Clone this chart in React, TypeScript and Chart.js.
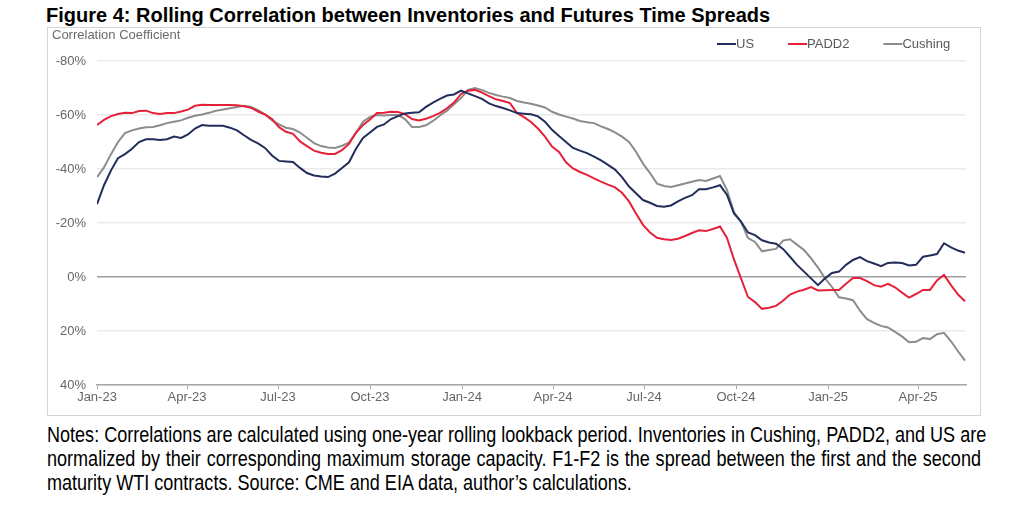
import React, { useEffect, useRef } from "react";
import { Chart, registerables } from "chart.js";

Chart.register(...registerables);

// Weekly observations, Jan 2023 – May 2025 (correlation in %, axis reversed)
const usValues = [
  -27, -34, -39.5, -44, -45.5, -47.5, -50, -51, -51, -50.7, -51, -52, -51.5, -52.8, -55, -56.3,
  -56, -56, -56, -55.3, -54.3, -52.5, -50.8, -49.5, -47.8, -45, -43, -42.8, -42.6, -40.4, -38.5,
  -37.6, -37.2, -37, -38.3, -40.4, -42.5, -47.5, -51.5, -53.5, -55.6, -56.5, -58.5, -59.6, -60.6,
  -60.8, -61, -63, -64.6, -66, -67.2, -67.6, -69, -68, -67, -66, -64.3, -63.3, -62.6, -61.7,
  -60.7, -60.5, -60.3, -59.5, -57.5, -54.5, -52.2, -50, -47.8, -46.8, -45.9, -44.6, -43.2, -41.5,
  -39.8, -37, -33.5, -31, -28.5, -27.5, -26.3, -26, -26.5, -28, -29.3, -30.3, -32.5, -32.5, -33.2,
  -34, -30.4, -23.5, -20.5, -16.5, -15.5, -13.6, -12.8, -12.3, -10.4, -7.5, -4.5, -2, 0.5, 3, 0.5,
  -1.5, -2, -4.5, -6.3, -7.4, -5.9, -5, -4, -5.2, -5.4, -5.2, -4.3, -4.5, -7.5, -8, -8.5, -12.5,
  -11, -9.8, -9,
];

const padd2Values = [
  -56.3, -58.2, -59.6, -60.4, -60.8, -60.7, -61.5, -61.6, -60.7, -60.4, -60.7, -60.7, -61.3, -62,
  -63.4, -63.8, -63.7, -63.7, -63.7, -63.7, -63.6, -63.2, -62.7, -61.3, -60.2, -58.5, -55.5, -53.8,
  -53, -50.2, -48.5, -46.8, -46, -45.6, -45.6, -47, -49.3, -53.5, -56.3, -58.3, -60.7, -60.8, -61.2,
  -61.1, -60.3, -58.5, -58, -58.6, -59.6, -60.8, -62.5, -64.6, -67.8, -69, -69.3, -68.3, -67, -65.8,
  -65.2, -64.4, -60.7, -59.2, -57.4, -55, -52, -48.3, -46.3, -42.5, -40.2, -38.9, -37.8, -36.5,
  -35.3, -34.2, -33.2, -31.2, -28, -23.5, -19.3, -16.5, -14.5, -14, -13.7, -14.2, -15.2, -16.3,
  -17.3, -17, -17.8, -18.7, -14.5, -6.5, 0.5, 7.4, 9.3, 11.8, 11.4, 10.7, 8.8, 6.5, 5.4, 4.7, 3.7,
  5, 4.9, 4.8, 4.8, 2.5, 0.4, 0.4, 1.5, 3, 3.6, 2.5, 3.8, 5.8, 7.6, 6.3, 4.8, 4.8, 1.3, -0.8, 3,
  6.5, 9,
];

const cushingValues = [
  -37, -40.6, -45.5, -50, -53.3, -54.3, -55, -55.5, -55.6, -56.2, -57, -57.5, -58, -59, -59.7,
  -60.2, -60.8, -61.6, -62, -62.5, -63, -63.4, -63, -61.8, -60.2, -58, -56.5, -55.3, -54.8, -53.5,
  -51.6, -49.6, -48.5, -48, -47.8, -48.6, -49.8, -53.4, -57.5, -59.3, -60, -59.8, -60, -60, -58.5,
  -55.6, -55.6, -56.2, -57.8, -59.8, -61.6, -64, -66.3, -69.3, -70, -69.2, -68.2, -67.4, -66.8,
  -66.3, -65.2, -64.6, -64.2, -63.5, -62.8, -61.2, -60.2, -59.4, -58.7, -57.8, -57.3, -57, -55.8,
  -54.8, -53.6, -52, -50, -46.4, -42, -38.5, -34.6, -33.7, -33.3, -34, -34.6, -35.3, -35.9, -35.6,
  -36.5, -37.4, -32.2, -24, -20.5, -14.4, -13, -9.5, -10, -10.4, -13.5, -14, -12, -10, -7, -3.5,
  0.5, 3.7, 7.5, 8, 8.6, 12.5, 15.6, 17, 18.1, 18.7, 20.3, 22, 24.2, 24, 22.6, 23, 21.2, 20.7,
  23.8, 27.5, 31,
];

// observation dates as days since 1 Jan 2023 (weekly)
const WEEK = 7;
const obsDays = usValues.map((_, i) => i * WEEK);

const tickDays = [0, 90, 181, 273, 365, 456, 547, 639, 731, 821];
const tickLabels = ["Jan-23", "Apr-23", "Jul-23", "Oct-23", "Jan-24", "Apr-24", "Jul-24", "Oct-24", "Jan-25", "Apr-25"];

const seriesNames = ["US", "PADD2", "Cushing"];
const seriesColors = ["#222d5c", "#e5213a", "#8c8c8c"];
const yTicks = [-80, -60, -40, -20, 0, 20, 40];

const noteLines = [
  "Notes: Correlations are calculated using one-year rolling lookback period. Inventories in Cushing, PADD2, and US are",
  "normalized by their corresponding maximum storage capacity. F1-F2 is the spread between the first and the second",
  "maturity WTI contracts. Source: CME and EIA data, author’s calculations.",
];

const FONT = '"Liberation Sans", Arial, Helvetica, sans-serif';
const NARROW = 0.82;

const headerPlugin = {
  id: "headerPlugin",
  afterDraw(chart: any) {
    const ctx = chart.ctx as CanvasRenderingContext2D;
    ctx.save();
    ctx.font = `13px ${FONT}`;
    ctx.textBaseline = "middle";
    ctx.fillStyle = "#6b6b6b";
    ctx.fillText("Correlation Coefficient", 4, 7);

    let x = 669;
    const y = 16;
    chart.data.datasets.forEach((ds: any) => {
      ctx.strokeStyle = ds.borderColor;
      ctx.lineWidth = 2;
      ctx.beginPath();
      ctx.moveTo(x, y);
      ctx.lineTo(x + 19, y);
      ctx.stroke();
      ctx.fillStyle = "#595959";
      ctx.fillText(ds.label, x + 19, y);
      x += 19 + ctx.measureText(ds.label).width + 34;
    });
    ctx.restore();
  },
};

export default function App() {
  const canvasRef = useRef<HTMLCanvasElement | null>(null);

  useEffect(() => {
    if (!canvasRef.current) return;
    const seriesValues = [usValues, padd2Values, cushingValues];
    const chart = new Chart(canvasRef.current, {
      type: "line",
      data: {
        datasets: seriesNames.map((name, s) => ({
          label: name,
          data: obsDays.map((d, i) => ({ x: d, y: seriesValues[s][i] })),
          borderColor: seriesColors[s],
          backgroundColor: seriesColors[s],
          borderWidth: 2,
          pointRadius: 0,
          tension: 0,
        })),
      },
      options: {
        animation: false,
        responsive: false,
        layout: { padding: { top: 33, right: 14, left: 0, bottom: 0 } },
        plugins: {
          legend: { display: false },
          tooltip: { enabled: false },
          title: { display: false },
        },
        scales: {
          x: {
            type: "linear",
            min: 0,
            max: 869,
            afterBuildTicks: (scale: any) => {
              scale.ticks = tickDays.map((v) => ({ value: v }));
            },
            afterFit: (scale: any) => {
              scale.height = 30;
            },
            ticks: {
              autoSkip: false,
              maxRotation: 0,
              padding: 1,
              color: "#666666",
              font: { family: FONT, size: 13 },
              callback: (v: any) => {
                const i = tickDays.indexOf(Number(v));
                return i >= 0 ? tickLabels[i] : "";
              },
            },
            grid: {
              drawOnChartArea: false,
              drawTicks: true,
              tickLength: 4,
              color: "#a6a6a6",
            },
            border: { display: true, color: "#a6a6a6", width: 1.5 },
          },
          y: {
            type: "linear",
            reverse: true,
            min: -80,
            max: 40,
            afterBuildTicks: (scale: any) => {
              scale.ticks = yTicks.map((v) => ({ value: v }));
            },
            afterFit: (scale: any) => {
              scale.width = 49;
            },
            ticks: {
              padding: 11,
              color: "#666666",
              font: { family: FONT, size: 13 },
              callback: (v: any) => `${v}%`,
            },
            grid: {
              drawTicks: false,
              color: (c: any) => (c.tick && c.tick.value === 0 ? "#a0a0a0" : "#ebebeb"),
              lineWidth: 1.5,
            },
            border: { display: false },
          },
        },
      },
      plugins: [headerPlugin],
    } as any);
    return () => chart.destroy();
  }, []);

  return (
    <div style={{ position: "absolute", left: 0, top: 0, width: 1018, height: 520, background: "#fff" }}>
      <div
        style={{
          position: "absolute",
          left: 46,
          top: 5,
          fontFamily: FONT,
          fontWeight: "bold",
          fontSize: 20,
          lineHeight: "20px",
          color: "#000",
          whiteSpace: "nowrap",
        }}
      >
        Figure 4: Rolling Correlation between Inventories and Futures Time Spreads
      </div>
      <div
        style={{
          position: "absolute",
          left: 47,
          top: 27,
          width: 934,
          height: 389,
          border: "1px solid #d4d4d4",
          boxSizing: "border-box",
        }}
      >
        <canvas ref={canvasRef} width={932} height={387} style={{ display: "block" }} />
      </div>
      <div
        style={{
          position: "absolute",
          left: 47,
          top: 423,
          width: 934,
          fontFamily: FONT,
          fontSize: 22,
          lineHeight: "24px",
          color: "#000",
        }}
      >
        {noteLines.map((line, i) => (
          <div
            key={i}
            style={{
              width: Math.round(934 / NARROW),
              transform: `scaleX(${NARROW})`,
              transformOrigin: "left top",
              whiteSpace: "nowrap",
              textAlign: i < 2 ? "justify" : "left",
              textAlignLast: (i < 2 ? "justify" : "left") as any,
            }}
          >
            {line}
          </div>
        ))}
      </div>
    </div>
  );
}
